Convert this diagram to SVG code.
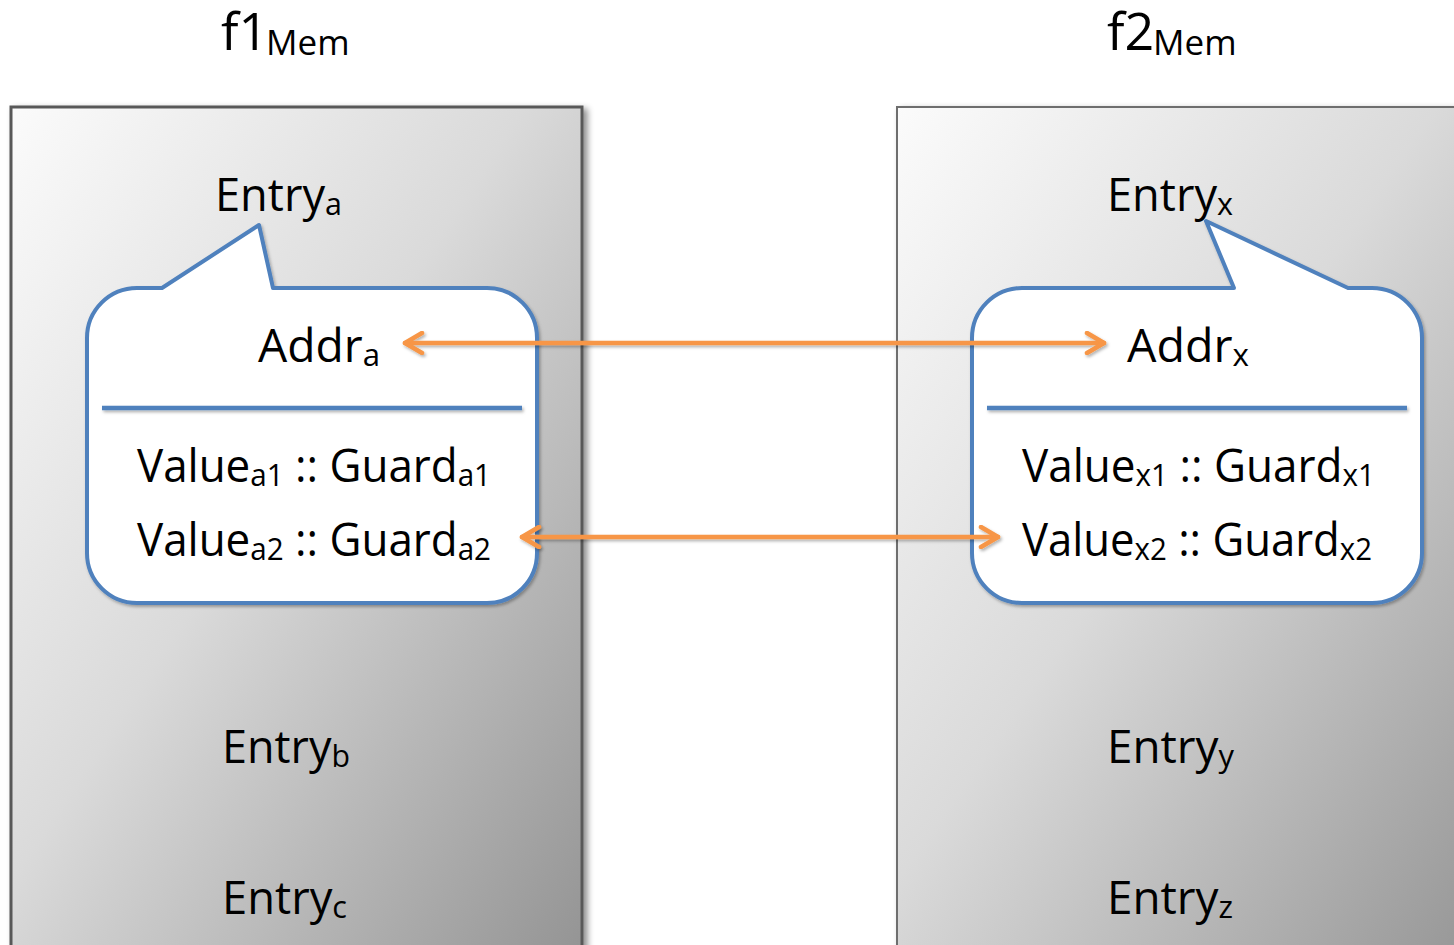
<svg xmlns="http://www.w3.org/2000/svg" width="1454" height="945" viewBox="0 0 1454 945">
<style>
.t{font-family:"Open Sans","Noto Sans","DejaVu Sans",sans-serif;font-size:46px;fill:#000}
.s{font-size:31px}
.title{font-size:52px}
.title .s{font-size:35px}
.callout{fill:#fff;stroke:#4f81bd;stroke-width:4;stroke-linejoin:round}
.sep{stroke:#4f81bd;stroke-width:4.5}
.conn{stroke:#f79646;stroke-width:4.5;fill:none;stroke-linecap:round}
</style>
<defs>
<linearGradient id="memgrad" x1="0" y1="0" x2="1" y2="1">
<stop offset="0" stop-color="#fbfbfb"/>
<stop offset="0.45" stop-color="#dadada"/>
<stop offset="1" stop-color="#939393"/>
</linearGradient>
<filter id="shadow" x="-5%" y="-5%" width="115%" height="115%">
<feDropShadow dx="4" dy="3" stdDeviation="3" flood-color="#000" flood-opacity="0.45"/>
</filter>
<filter id="lshadow" filterUnits="userSpaceOnUse" x="0" y="0" width="1454" height="945">
<feDropShadow dx="1.5" dy="2" stdDeviation="1.5" flood-color="#000" flood-opacity="0.3"/>
</filter>
<marker id="ah" viewBox="-20 -12 24 24" markerWidth="24" markerHeight="24" refX="0" refY="0" orient="auto-start-reverse" markerUnits="userSpaceOnUse">
<path d="M-17,-10 L0,0 L-17,10" fill="none" stroke="#f79646" stroke-width="4.5" stroke-linecap="round" stroke-linejoin="round"/>
</marker>
</defs>

<g id="f1mem">
<rect x="11" y="107" width="571" height="860" fill="url(#memgrad)" stroke="#595959" stroke-width="3" filter="url(#shadow)"/>
<text class="t title" x="221" y="50">f1<tspan class="s" x="266" y="55">Mem</tspan></text>
<text class="t" x="215" y="211" textLength="127" lengthAdjust="spacingAndGlyphs">Entry<tspan class="s" dy="4">a</tspan></text>
<text class="t" x="222" y="763" textLength="128" lengthAdjust="spacingAndGlyphs">Entry<tspan class="s" dy="4">b</tspan></text>
<text class="t" x="222" y="914" textLength="125" lengthAdjust="spacingAndGlyphs">Entry<tspan class="s" dy="4">c</tspan></text>
</g>

<g id="f2mem">
<rect x="897" y="107" width="600" height="860" fill="url(#memgrad)" stroke="#6e6e6e" stroke-width="2" filter="url(#shadow)"/>
<text class="t title" x="1107" y="50">f2<tspan class="s" x="1153" y="55">Mem</tspan></text>
<text class="t" x="1107" y="211" textLength="126" lengthAdjust="spacingAndGlyphs">Entry<tspan class="s" dy="4">x</tspan></text>
<text class="t" x="1107" y="763" textLength="127" lengthAdjust="spacingAndGlyphs">Entry<tspan class="s" dy="4">y</tspan></text>
<text class="t" x="1107" y="914" textLength="126" lengthAdjust="spacingAndGlyphs">Entry<tspan class="s" dy="4">z</tspan></text>
</g>

<g id="entry-a">
<path class="callout" filter="url(#lshadow)" d="M162,288 L259,225 L273,288 L487,288 A50,50 0 0 1 537,338 L537,553 A50,50 0 0 1 487,603 L137,603 A50,50 0 0 1 87,553 L87,338 A50,50 0 0 1 137,288 Z"/>
<line class="sep" x1="102" y1="408" x2="522" y2="408" filter="url(#lshadow)"/>
<text class="t" x="258" y="362" textLength="122" lengthAdjust="spacingAndGlyphs">Addr<tspan class="s" dy="4">a</tspan></text>
<text class="t" x="137" y="482" textLength="354" lengthAdjust="spacingAndGlyphs">Value<tspan class="s" dy="4">a1</tspan><tspan dy="-4"> :: Guard</tspan><tspan class="s" dy="4">a1</tspan></text>
<text class="t" x="137" y="556" textLength="354" lengthAdjust="spacingAndGlyphs">Value<tspan class="s" dy="4">a2</tspan><tspan dy="-4"> :: Guard</tspan><tspan class="s" dy="4">a2</tspan></text>
</g>

<g id="entry-x">
<path class="callout" filter="url(#lshadow)" d="M1022,288 L1234,288 L1206,221 L1348,288 L1372,288 A50,50 0 0 1 1422,338 L1422,553 A50,50 0 0 1 1372,603 L1022,603 A50,50 0 0 1 972,553 L972,338 A50,50 0 0 1 1022,288 Z"/>
<line class="sep" x1="987" y1="408" x2="1407" y2="408" filter="url(#lshadow)"/>
<text class="t" x="1127" y="362" textLength="122" lengthAdjust="spacingAndGlyphs">Addr<tspan class="s" dy="4">x</tspan></text>
<text class="t" x="1022" y="482" textLength="353" lengthAdjust="spacingAndGlyphs">Value<tspan class="s" dy="4">x1</tspan><tspan dy="-4"> :: Guard</tspan><tspan class="s" dy="4">x1</tspan></text>
<text class="t" x="1022" y="556" textLength="350" lengthAdjust="spacingAndGlyphs">Value<tspan class="s" dy="4">x2</tspan><tspan dy="-4"> :: Guard</tspan><tspan class="s" dy="4">x2</tspan></text>
</g>

<g id="connectors" filter="url(#lshadow)">
<line class="conn" x1="405" y1="343" x2="1104" y2="343" marker-start="url(#ah)" marker-end="url(#ah)"/>
<line class="conn" x1="522" y1="537" x2="998" y2="537" marker-start="url(#ah)" marker-end="url(#ah)"/>
</g>
</svg>
